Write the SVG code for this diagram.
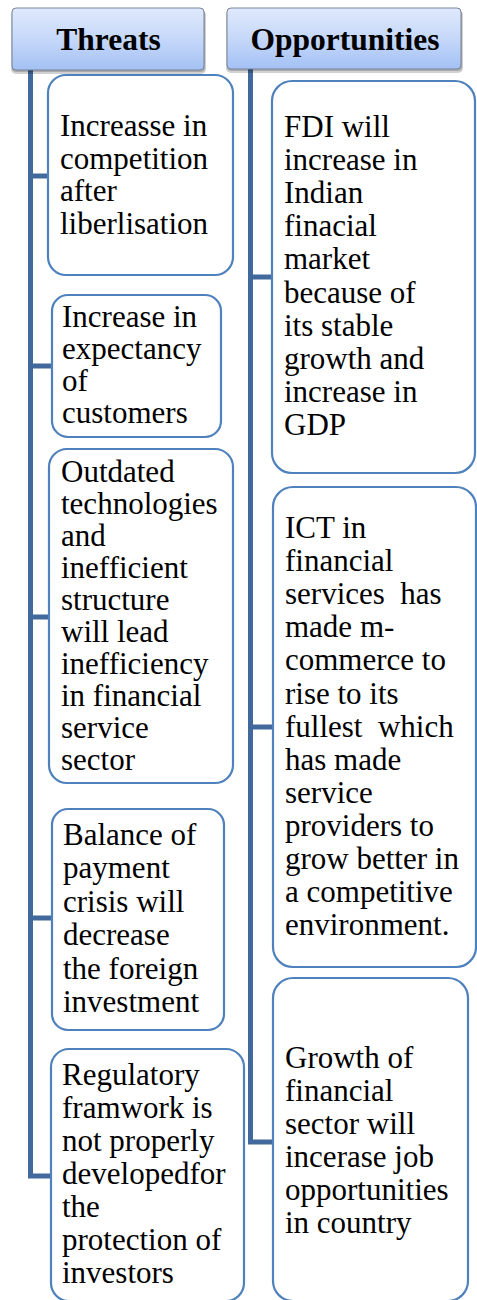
<svg xmlns="http://www.w3.org/2000/svg" width="477" height="1300" viewBox="0 0 477 1300">
<defs>
<linearGradient id="hg" x1="0" y1="0" x2="0" y2="1">
<stop offset="0" stop-color="#dfe9fc"/>
<stop offset="0.5" stop-color="#c6d8f9"/>
<stop offset="1" stop-color="#a3c1f4"/>
</linearGradient>
</defs>
<rect width="477" height="1300" fill="#fff"/>

<g id="connectors" fill="none" stroke="#41699b" stroke-width="5">
<path d="M30.5,70 V1176 H51"/>
<path d="M30.5,176 H48"/>
<path d="M30.5,366 H52"/>
<path d="M30.5,617 H49"/>
<path d="M30.5,918 H52"/>
<path d="M250.5,69 V1142 H273"/>
<path d="M250.5,277 H272"/>
<path d="M250.5,727 H273"/>
</g>

<g id="threats-header">
<rect x="11" y="10" width="195" height="64" rx="5" fill="#000" opacity="0.18"/>
<rect x="12" y="10" width="193" height="62" rx="4" fill="#000" opacity="0.18"/>
<rect x="12" y="8" width="192" height="62" rx="4" fill="url(#hg)" stroke="#77839a" stroke-width="1"/>
<text x="108.5" y="50" font-family="Liberation Serif" font-size="31.5" font-weight="bold" text-anchor="middle">Threats</text>
</g>
<g id="opportunities-header">
<rect x="226" y="10" width="237" height="63" rx="5" fill="#000" opacity="0.18"/>
<rect x="227" y="10" width="235" height="61" rx="4" fill="#000" opacity="0.18"/>
<rect x="227" y="8" width="234" height="61" rx="4" fill="url(#hg)" stroke="#77839a" stroke-width="1"/>
<text x="345" y="50" font-family="Liberation Serif" font-size="31.5" font-weight="bold" text-anchor="middle">Opportunities</text>
</g>

<g id="threat1">
<rect x="48" y="75" width="185" height="200" rx="18" fill="#fff" stroke="#4f81bd" stroke-width="2.2"/>
<text x="60" y="136" font-family="Liberation Serif" font-size="31"><tspan x="60">Increasse in</tspan><tspan x="60" dy="32.7">competition</tspan><tspan x="60" dy="32.7">after</tspan><tspan x="60" dy="32.7">liberlisation</tspan></text>
</g>
<g id="threat2">
<rect x="52" y="295" width="169" height="142" rx="16" fill="#fff" stroke="#4f81bd" stroke-width="2.2"/>
<text x="62" y="327" font-family="Liberation Serif" font-size="31"><tspan x="62">Increase in</tspan><tspan x="62" dy="32">expectancy</tspan><tspan x="62" dy="32">of</tspan><tspan x="62" dy="32">customers</tspan></text>
</g>
<g id="threat3">
<rect x="49" y="449" width="184" height="334" rx="18" fill="#fff" stroke="#4f81bd" stroke-width="2.2"/>
<text x="61" y="482" font-family="Liberation Serif" font-size="31"><tspan x="61">Outdated</tspan><tspan x="61" dy="32">technologies</tspan><tspan x="61" dy="32">and</tspan><tspan x="61" dy="32">inefficient</tspan><tspan x="61" dy="32">structure</tspan><tspan x="61" dy="32">will lead</tspan><tspan x="61" dy="32">inefficiency</tspan><tspan x="61" dy="32">in financial</tspan><tspan x="61" dy="32">service</tspan><tspan x="61" dy="32">sector</tspan></text>
</g>
<g id="threat4">
<rect x="52" y="809" width="172" height="221" rx="16" fill="#fff" stroke="#4f81bd" stroke-width="2.2"/>
<text x="63" y="845" font-family="Liberation Serif" font-size="31"><tspan x="63">Balance of</tspan><tspan x="63" dy="33.4">payment</tspan><tspan x="63" dy="33.4">crisis will</tspan><tspan x="63" dy="33.4">decrease</tspan><tspan x="63" dy="33.4">the foreign</tspan><tspan x="63" dy="33.4">investment</tspan></text>
</g>
<g id="threat5">
<rect x="51" y="1049" width="193" height="252" rx="18" fill="#fff" stroke="#4f81bd" stroke-width="2.2"/>
<text x="62" y="1085" font-family="Liberation Serif" font-size="31"><tspan x="62">Regulatory</tspan><tspan x="62" dy="33">framwork is</tspan><tspan x="62" dy="33">not properly</tspan><tspan x="62" dy="33">developedfor</tspan><tspan x="62" dy="33">the</tspan><tspan x="62" dy="33">protection of</tspan><tspan x="62" dy="33">investors</tspan></text>
</g>

<g id="opp1">
<rect x="272" y="81" width="203" height="392" rx="20" fill="#fff" stroke="#4f81bd" stroke-width="2.2"/>
<text x="284" y="137" font-family="Liberation Serif" font-size="31"><tspan x="284">FDI will</tspan><tspan x="284" dy="33.1">increase in</tspan><tspan x="284" dy="33.1">Indian</tspan><tspan x="284" dy="33.1">finacial</tspan><tspan x="284" dy="33.1">market</tspan><tspan x="284" dy="33.1">because of</tspan><tspan x="284" dy="33.1">its stable</tspan><tspan x="284" dy="33.1">growth and</tspan><tspan x="284" dy="33.1">increase in</tspan><tspan x="284" dy="33.1">GDP</tspan></text>
</g>
<g id="opp2">
<rect x="273" y="487" width="203" height="480" rx="20" fill="#fff" stroke="#4f81bd" stroke-width="2.2"/>
<text x="285" y="538" font-family="Liberation Serif" font-size="31"><tspan x="285">ICT in</tspan><tspan x="285" dy="33.1">financial</tspan><tspan x="285" dy="33.1">services&#160; has</tspan><tspan x="285" dy="33.1">made m-</tspan><tspan x="285" dy="33.1">commerce to</tspan><tspan x="285" dy="33.1">rise to its</tspan><tspan x="285" dy="33.1">fullest&#160; which</tspan><tspan x="285" dy="33.1">has made</tspan><tspan x="285" dy="33.1">service</tspan><tspan x="285" dy="33.1">providers to</tspan><tspan x="285" dy="33.1">grow better in</tspan><tspan x="285" dy="33.1">a competitive</tspan><tspan x="285" dy="33.1">environment.</tspan></text>
</g>
<g id="opp3">
<rect x="273" y="978" width="195" height="323" rx="20" fill="#fff" stroke="#4f81bd" stroke-width="2.2"/>
<text x="285" y="1068" font-family="Liberation Serif" font-size="31"><tspan x="285">Growth of</tspan><tspan x="285" dy="33">financial</tspan><tspan x="285" dy="33">sector will</tspan><tspan x="285" dy="33">incerase job</tspan><tspan x="285" dy="33">opportunities</tspan><tspan x="285" dy="33">in country</tspan></text>
</g>
</svg>
